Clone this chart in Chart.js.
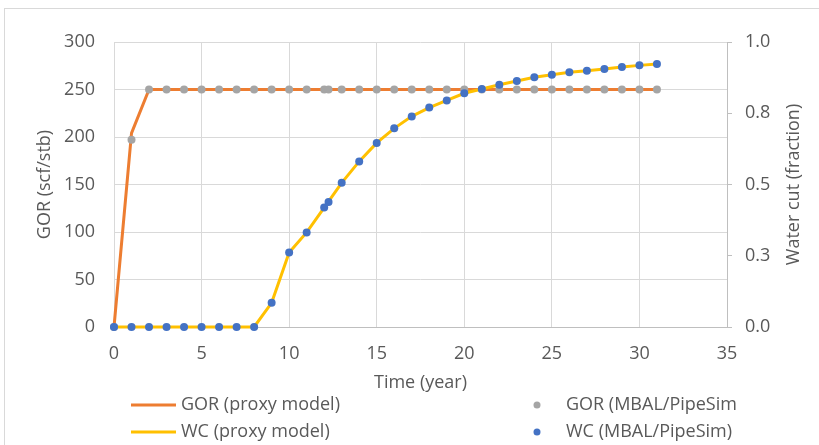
<!DOCTYPE html>
<html>
<head>
<meta charset="utf-8">
<script src="https://cdn.jsdelivr.net/npm/chart.js@4.4.1/dist/chart.umd.min.js"></script>
<style>
  body { margin: 0; background: #fff; overflow: hidden; }
  #frame { position: absolute; left: 4px; top: 8px; width: 900px; height: 600px; border: 1px solid #d9d9d9; }
  #gor { position: absolute; left: 0; top: 0; }
</style>
</head>
<body>
<div id="frame"></div>
<canvas id="gor" width="819" height="445"></canvas>
<script>
// proxy model results (one value per year)
var years = [0, 1, 2, 3, 4, 5, 6, 7, 8, 9, 10, 11, 12, 13, 14, 15, 16, 17, 18, 19, 20,
             21, 22, 23, 24, 25, 26, 27, 28, 29, 30, 31];
var gorProxy = [0, 204, 250, 250, 250, 250, 250, 250, 250, 250, 250, 250, 250, 250, 250, 250,
                250, 250, 250, 250, 250, 250, 250, 250, 250, 250, 250, 250, 250, 250, 250, 250];
var wcProxy = [0, 0, 0, 0, 0, 0, 0, 0, 0, 0.085, 0.261, 0.332, 0.419, 0.506, 0.581, 0.646,
               0.697, 0.739, 0.770, 0.795, 0.820, 0.835, 0.850, 0.863, 0.876, 0.885, 0.894,
               0.899, 0.905, 0.912, 0.918, 0.923];

// MBAL / PipeSim results (has an extra sample just after year 12)
var mbalYears = [0, 1, 2, 3, 4, 5, 6, 7, 8, 9, 10, 11, 12, 12.25, 13, 14, 15, 16, 17, 18, 19, 20,
                 21, 22, 23, 24, 25, 26, 27, 28, 29, 30, 31];
var gorMbal = [0, 197, 250, 250, 250, 250, 250, 250, 250, 250, 250, 250, 250, 250, 250, 250, 250,
               250, 250, 250, 250, 250, 250, 250, 250, 250, 250, 250, 250, 250, 250, 250, 250];
var wcMbal = [0, 0, 0, 0, 0, 0, 0, 0, 0, 0.085, 0.261, 0.332, 0.419, 0.439, 0.506, 0.581, 0.646,
              0.697, 0.739, 0.770, 0.795, 0.820, 0.835, 0.850, 0.863, 0.876, 0.885, 0.894,
              0.899, 0.905, 0.912, 0.918, 0.923];

var gorTicks = [0, 50, 100, 150, 200, 250, 300];
var timeTicks = [0, 5, 10, 15, 20, 25, 30, 35];

function pairs(xs, ys) {
    return xs.map(function (x, i) { return { x: x, y: ys[i] }; });
}

Chart.defaults.font.family = '"Open Sans", sans-serif';
Chart.defaults.font.size = 18;
Chart.defaults.color = '#595959';

// legend drawn in two columns under the axis title
var legendSpots = [
    { ds: 0, x: 131, y: 405, line: true },
    { ds: 1, x: 537, y: 405, line: false },
    { ds: 2, x: 131, y: 432, line: true },
    { ds: 3, x: 537, y: 432, line: false }
];
var rightTitle = 'Water cut (fraction)';

var extras = {
    id: 'extras',
    afterDraw: function (chart) {
        var c = chart.ctx;
        var area = chart.chartArea;
        c.save();
        c.font = '18px "Open Sans"';
        c.fillStyle = '#595959';
        c.textBaseline = 'middle';

        // right axis title reads bottom to top, like the left one
        c.save();
        c.translate(chart.scales.y1.right - 25, (area.top + area.bottom) / 2);
        c.rotate(-Math.PI / 2);
        c.textAlign = 'center';
        c.fillText(rightTitle, 0, 0);
        c.restore();

        legendSpots.forEach(function (s) {
            var d = chart.data.datasets[s.ds];
            if (s.line) {
                c.strokeStyle = d.borderColor;
                c.lineWidth = 3;
                c.beginPath();
                c.moveTo(s.x, s.y);
                c.lineTo(s.x + 45, s.y);
                c.stroke();
                c.fillStyle = '#595959';
                c.fillText(d.label, s.x + 50, s.y);
            } else {
                c.fillStyle = d.backgroundColor;
                c.beginPath();
                c.arc(s.x, s.y, 3.5, 0, Math.PI * 2);
                c.fill();
                c.fillStyle = '#595959';
                c.fillText(d.label, s.x + 29, s.y);
            }
        });
        c.restore();
    }
};

var ctx = document.getElementById('gor').getContext('2d');
var chart = new Chart(ctx, {
    type: 'line',
    data: {
        datasets: [{
            label: 'GOR (proxy model)',
            data: pairs(years, gorProxy),
            yAxisID: 'y',
            borderColor: '#ED7D31',
            backgroundColor: '#ED7D31',
            borderWidth: 3,
            pointRadius: 0,
            clip: false,
            order: 4
        }, {
            label: 'GOR (MBAL/PipeSim',
            data: pairs(mbalYears, gorMbal),
            yAxisID: 'y',
            showLine: false,
            borderColor: '#A5A5A5',
            backgroundColor: '#A5A5A5',
            pointRadius: 4,
            pointBorderWidth: 0,
            clip: false,
            order: 2
        }, {
            label: 'WC (proxy model)',
            data: pairs(years, wcProxy),
            yAxisID: 'y1',
            borderColor: '#FFC000',
            backgroundColor: '#FFC000',
            borderWidth: 3,
            pointRadius: 0,
            clip: false,
            order: 3
        }, {
            label: 'WC (MBAL/PipeSim)',
            data: pairs(mbalYears, wcMbal),
            yAxisID: 'y1',
            showLine: false,
            borderColor: '#4472C4',
            backgroundColor: '#4472C4',
            pointRadius: 4,
            pointBorderWidth: 0,
            clip: false,
            order: 1
        }]
    },
    options: {
        responsive: false,
        animation: false,
        events: [],
        layout: { padding: { left: 0, right: 0, top: 42, bottom: 48 } },
        plugins: {
            legend: { display: false },
            tooltip: { enabled: false }
        },
        scales: {
            x: {
                type: 'linear',
                min: 0,
                max: 35,
                afterBuildTicks: function (s) { s.ticks = timeTicks.map(function (v) { return { value: v }; }); },
                afterFit: function (s) { s.height = 70; },
                grid: { color: '#d9d9d9', drawTicks: false },
                border: { color: '#bfbfbf' },
                ticks: { padding: 16 },
                title: { display: true, text: 'Time (year)', padding: { top: 0, bottom: 3 } }
            },
            y: {
                position: 'left',
                min: 0,
                max: 300,
                afterBuildTicks: function (s) { s.ticks = gorTicks.map(function (v) { return { value: v }; }); },
                afterFit: function (s) { s.width = 114; },
                grid: { color: '#d9d9d9', drawTicks: false },
                border: { display: false },
                ticks: { padding: 19 },
                title: { display: true, text: 'GOR (scf/stb)', padding: { top: 34, bottom: 0 } }
            },
            y1: {
                position: 'right',
                min: 0,
                max: 1,
                afterFit: function (s) { s.width = 92; },
                grid: { drawOnChartArea: false, color: '#bfbfbf', tickLength: 5 },
                border: { color: '#bfbfbf' },
                ticks: {
                    stepSize: 0.25,
                    padding: 13,
                    callback: function (v) { return v.toFixed(1); }
                }
            }
        }
    },
    plugins: [extras]
});
</script>
</body>
</html>
